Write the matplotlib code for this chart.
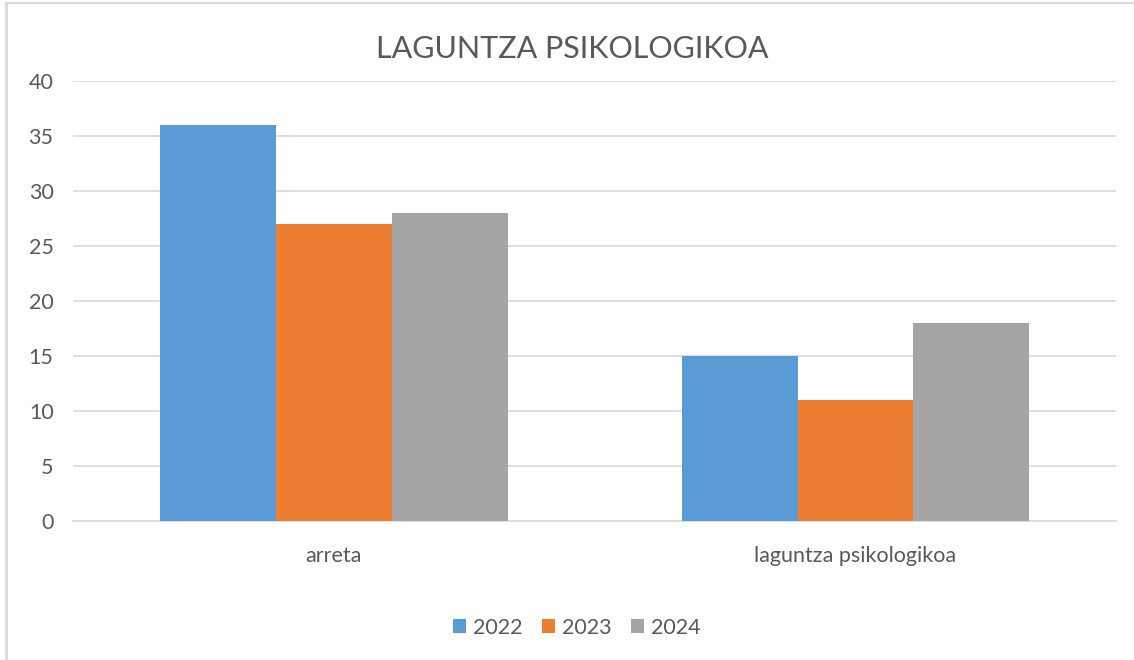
import numpy as np
import matplotlib.pyplot as plt
from matplotlib.lines import Line2D

categories = ['arreta', 'laguntza psikologikoa']
years = ['2022', '2023', '2024']
values_2022 = [36, 15]
values_2023 = [27, 11]
values_2024 = [28, 18]
colors = ['#5B9BD5', '#ED7D31', '#A5A5A5']
y_ticks = [0, 5, 10, 15, 20, 25, 30, 35, 40]

plt.rcParams['font.family'] = ['Lato', 'DejaVu Sans']

fig = plt.figure(figsize=(11.34, 6.6), dpi=100)
ax = fig.add_axes([0.0644, 0.2106, 0.920, 0.667])  # [left, bottom, width, height]

x = np.arange(len(categories))
width = 0.222
series = [values_2022, values_2023, values_2024]
for i, (vals, year) in enumerate(zip(series, years)):
    ax.bar(x + (i - 1) * width, vals, width, color=colors[i], label=year, zorder=3)

ax.set_xlim(-0.5, 1.5)
ax.set_ylim(0, 40)
ax.set_yticks(y_ticks)
ax.set_xticks(x)
ax.set_xticklabels(categories)
ax.grid(axis='y', color='#D9D9D9', linewidth=1.2, zorder=0)
for s in ['top', 'right', 'left']:
    ax.spines[s].set_visible(False)
ax.spines['bottom'].set_color('#D9D9D9')
ax.spines['bottom'].set_linewidth(1.2)
ax.tick_params(axis='both', length=0, colors='#595959', labelsize=15.5)
ax.tick_params(axis='y', pad=14)
ax.tick_params(axis='x', pad=18)

fig.suptitle('LAGUNTZA PSIKOLOGIKOA', x=0.505, y=0.947, fontsize=22, color='#595959')

fig.legend(loc='center', bbox_to_anchor=(0.509, 0.049), ncol=3, frameon=False,
           fontsize=15.5, labelcolor='#595959', handlelength=0.6, handleheight=0.6,
           handletextpad=0.33, columnspacing=0.9)

# chart border (only top and left edges are visible in the source)
fig.add_artist(Line2D([0.0052, 0.0052], [0, 0.995], transform=fig.transFigure,
                      color='#D9D9D9', linewidth=2))
fig.add_artist(Line2D([0.0052, 1], [0.995, 0.995], transform=fig.transFigure,
                      color='#D9D9D9', linewidth=1.5))

fig.savefig('out.png', dpi=100)
